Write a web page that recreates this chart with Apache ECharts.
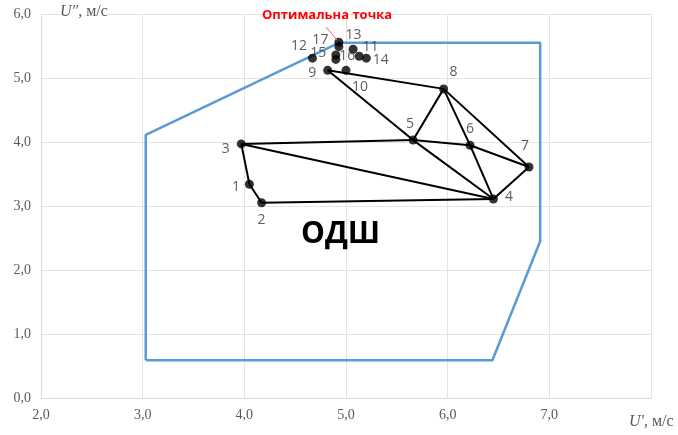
<!DOCTYPE html>
<html>
<head>
<meta charset="utf-8">
<script src="https://cdn.jsdelivr.net/npm/echarts@6/dist/echarts.min.js"></script>
<style>
  html, body { margin: 0; padding: 0; background: #fff; }
  #chart { width: 678px; height: 435px; }
</style>
</head>
<body>
<div id="chart"></div>
<script>
// Simplex search points (U', U'') with their labels
const pointNames = ['1','2','3','4','5','6','7','8','9','10','11','12','13','14','15','16','17',''];
const pointU1 = [4.05, 4.17, 3.97, 6.45, 5.66, 6.22, 6.80, 5.96, 4.82, 5.00, 5.07, 4.67, 4.93, 5.20, 4.90, 4.90, 4.93, 5.13];
const pointU2 = [3.34, 3.05, 3.97, 3.11, 4.03, 3.95, 3.61, 4.83, 5.12, 5.12, 5.45, 5.31, 5.56, 5.31, 5.36, 5.29, 5.49, 5.34];

// Label placement per point: [position, dx, dy]
const labelPlace = [
  ['left', 0, 3], ['bottom', 0, 1], ['left', -2, 5], ['right', 2, -2],
  ['top', -3, 0], ['top', 0, 0], ['top', -4, -4], ['top', 10, 0],
  ['left', -2, 3], ['bottom', 14, 0], ['right', 0, -2], ['left', 4, -12],
  ['right', -3, -7], ['right', -3, 2], ['left', 0, -2], ['right', -6, -3],
  ['left', -1, -7], null
];

// Edges of the simplex triangles (1-based point numbers)
const edges = [[3,1],[1,2],[2,4],[3,4],[3,5],[5,6],[6,7],[7,4],[5,4],[6,4],[8,5],[8,6],[8,7],[9,8],[9,5]];

// Feasible region (ОДШ) boundary
const regionU1 = [3.03, 3.03, 4.93, 6.91, 6.91, 6.44, 3.03];
const regionU2 = [0.59, 4.11, 5.55, 5.55, 2.45, 0.59, 0.59];

const xTicks = { min: 2, max: 8, step: 1 };
const yTicks = { min: 0, max: 6, step: 1 };

const fmt = v => v.toFixed(1).replace('.', ',');

const pts = pointU1.map((x, i) => [x, pointU2[i]]);

const scatterData = pts.map((p, i) => {
  const lp = labelPlace[i];
  return {
    value: p,
    name: pointNames[i],
    label: lp ? { show: true, position: lp[0], offset: [lp[1], lp[2]] } : { show: false }
  };
});

const option = {
  animation: false,
  backgroundColor: '#ffffff',
  grid: { left: 41, top: 14, width: 610, height: 384, containLabel: false },
  xAxis: {
    type: 'value', min: xTicks.min, max: xTicks.max, interval: xTicks.step,
    axisLine: { show: true, lineStyle: { color: '#d9d9d9', width: 1 } },
    axisTick: { show: false },
    splitLine: { show: true, lineStyle: { color: '#e4e4e4', width: 1 } },
    axisLabel: {
      margin: 10, color: '#595959', fontFamily: 'Liberation Serif', fontSize: 14,
      formatter: v => (v >= xTicks.max ? '' : fmt(v))
    }
  },
  yAxis: {
    type: 'value', min: yTicks.min, max: yTicks.max, interval: yTicks.step,
    axisLine: { show: true, lineStyle: { color: '#d9d9d9', width: 1 } },
    axisTick: { show: false },
    splitLine: { show: true, lineStyle: { color: '#e4e4e4', width: 1 } },
    axisLabel: {
      margin: 10, color: '#595959', fontFamily: 'Liberation Serif', fontSize: 14,
      formatter: v => fmt(v)
    }
  },
  series: [
    {
      type: 'line',
      data: regionU1.map((x, i) => [x, regionU2[i]]),
      showSymbol: false,
      symbol: 'none',
      lineStyle: { color: '#5b9bd5', width: 2.5 },
      z: 2
    },
    {
      type: 'lines',
      coordinateSystem: 'cartesian2d',
      data: edges.map(([a, b]) => ({ coords: [pts[a - 1], pts[b - 1]] })),
      lineStyle: { color: '#000000', width: 2, opacity: 1 },
      z: 3
    },
    {
      type: 'scatter',
      data: scatterData,
      symbol: 'circle',
      symbolSize: 9,
      itemStyle: { color: '#000000' },
      label: {
        show: true,
        formatter: p => p.name,
        color: '#333333',
        fontFamily: 'Open Sans',
        fontSize: 14
      },
      z: 4
    }
  ],
  graphic: [
    {
      type: 'text', left: 60, top: 4,
      style: {
        rich: {
          u: { fontFamily: 'Liberation Serif', fontStyle: 'italic', fontSize: 16, fill: '#595959' },
          t: { fontFamily: 'Liberation Serif', fontSize: 16, fill: '#595959' }
        },
        text: '{u|U″}{t|, м/с}',
        backgroundColor: '#ffffff'
      },
      z: 10
    },
    {
      type: 'text', left: 629, top: 414,
      style: {
        rich: {
          u: { fontFamily: 'Liberation Serif', fontStyle: 'italic', fontSize: 16, fill: '#595959' },
          t: { fontFamily: 'Liberation Serif', fontSize: 16, fill: '#595959' }
        },
        text: "{u|U'}{t|, м/с}"
      },
      z: 10
    },
    {
      type: 'text', left: 262, top: 9,
      style: { text: 'Оптимальна точка', fontFamily: 'Open Sans', fontWeight: 'bold', fontSize: 13, fill: '#ff0000' },
      z: 10
    },
    {
      type: 'line',
      shape: { x1: 326, y1: 27, x2: 337, y2: 40 },
      style: { stroke: '#ff6060', lineWidth: 1 },
      z: 10
    },
    {
      type: 'text', left: 301, top: 219,
      style: { text: 'ОДШ', fontFamily: 'Open Sans', fontWeight: 'bold', fontSize: 30, fill: '#000000' },
      z: 10
    }
  ]
};

const chart = echarts.init(document.getElementById('chart'), null, { renderer: 'canvas' });
chart.setOption(option);
</script>
</body>
</html>
